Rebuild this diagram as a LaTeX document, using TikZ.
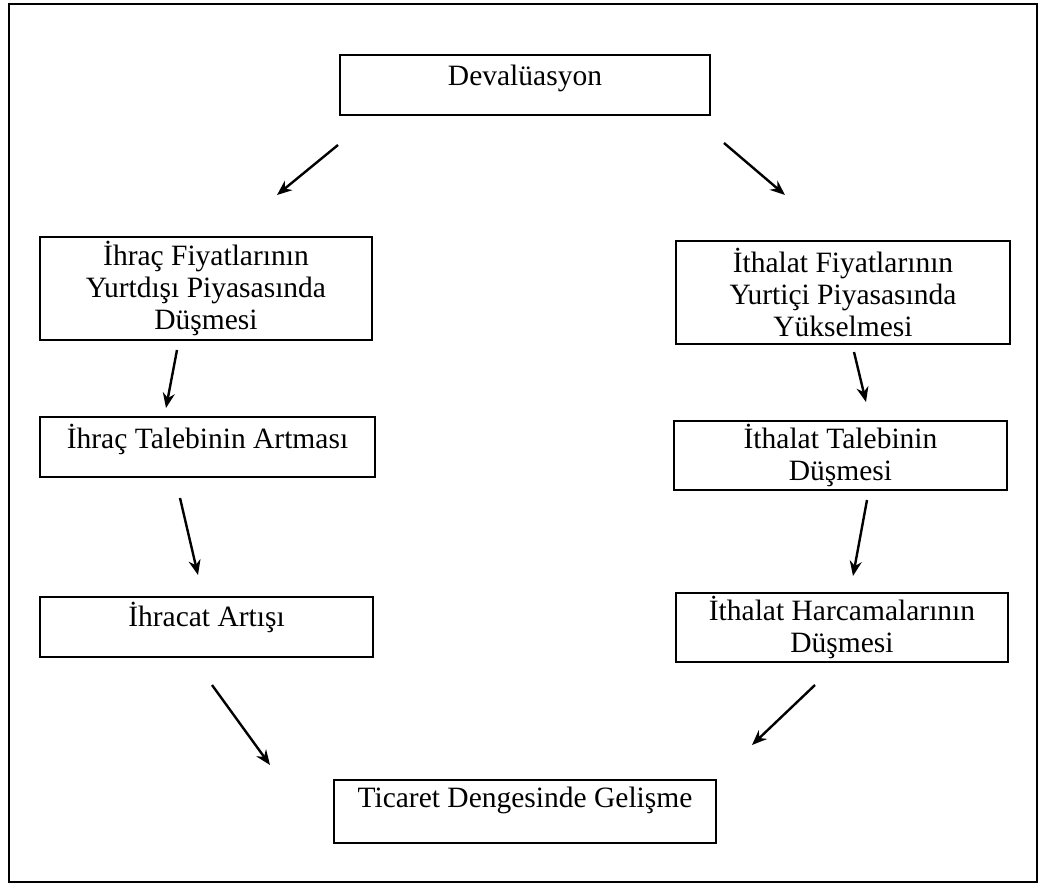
\documentclass[tikz,border=0pt]{standalone}
\usepackage{fontspec}
\setmainfont{Liberation Serif}
\usetikzlibrary{arrows.meta}
\begin{document}
\begin{tikzpicture}[x=1pt,y=-1pt,
  box/.style={draw, line width=1.6pt, inner sep=0pt, align=center,
    font=\fontsize{29.5}{32}\selectfont},
  arr/.style={line width=2.4pt, -{Stealth[length=15pt,width=12pt]}}]
\useasboundingbox (0,0) rectangle (1045,888);
\fill[white] (0,0) rectangle (1045,888);
\draw[line width=1.6pt] (9,4) rectangle (1037,882);
% boxes
\node[box, minimum width=370pt, text height=31pt, text depth=29pt] (dev) at (525,85) {Devalüasyon};
\node[box, minimum width=332pt, minimum height=103pt] (ihf) at (206,288.5) {İhraç Fiyatlarının\\Yurtdışı Piyasasında\\Düşmesi};
\node[box, minimum width=334pt, minimum height=103pt] (ithf) at (843,292.5) {İthalat Fiyatlarının\\Yurtiçi Piyasasında\\Yükselmesi};
\node[box, minimum width=335pt, text height=31pt, text depth=29pt] (iht) at (207.5,447) {İhraç Talebinin Artması};
\node[box, minimum width=333pt, minimum height=69pt] (itht) at (840.5,455.5) {İthalat Talebinin\\Düşmesi};
\node[box, minimum width=333pt, text height=29pt, text depth=31pt] (iha) at (206.5,627) {İhracat Artışı};
\node[box, minimum width=332pt, minimum height=69pt] (ithh) at (842,627.5) {İthalat Harcamalarının\\Düşmesi};
\node[box, minimum width=382pt, text height=27pt, text depth=36pt] (tic) at (525,811.5) {Ticaret Dengesinde Gelişme};
% arrow end points
\coordinate (a1s) at (338,145); \coordinate (a1e) at (277,195);
\coordinate (a2s) at (724,143); \coordinate (a2e) at (785,195);
\coordinate (a3s) at (177,350); \coordinate (a3e) at (166,408);
\coordinate (a4s) at (180,498); \coordinate (a4e) at (198,575);
\coordinate (a5s) at (854,352); \coordinate (a5e) at (866,402);
\coordinate (a6s) at (867,500); \coordinate (a6e) at (853,576);
\coordinate (a7s) at (212,685); \coordinate (a7e) at (270,765);
\coordinate (a8s) at (815,685); \coordinate (a8e) at (752,745);
\draw[arr] (a1s) -- (a1e);
\draw[arr] (a2s) -- (a2e);
\draw[arr] (a3s) -- (a3e);
\draw[arr] (a4s) -- (a4e);
\draw[arr] (a5s) -- (a5e);
\draw[arr] (a6s) -- (a6e);
\draw[arr] (a7s) -- (a7e);
\draw[arr] (a8s) -- (a8e);
\end{tikzpicture}
\end{document}
